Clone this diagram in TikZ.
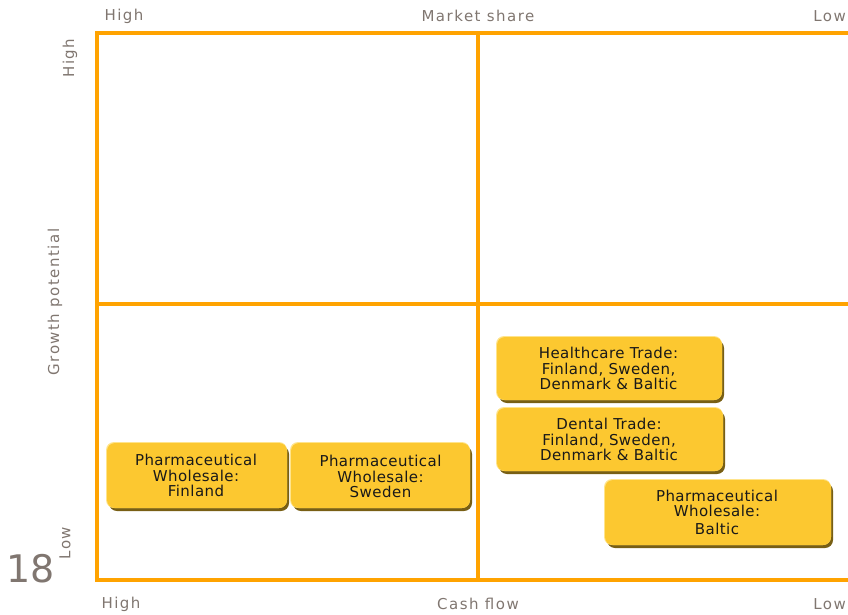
\documentclass[tikz,border=0pt]{standalone}
\usepackage{fontspec}
\setmainfont{DejaVu Sans}
\newfontfamily\boxfont[LetterSpace=3]{DejaVu Sans}
\newfontfamily\labfont[LetterSpace=10]{DejaVu Sans}
\definecolor{gridorange}{RGB}{255,163,0}
\definecolor{boxfill}{RGB}{252,200,48}
\definecolor{boxshadow}{RGB}{120,95,20}
\definecolor{boxlight}{RGB}{255,228,140}
\definecolor{labelgray}{RGB}{128,118,112}
\tikzset{
  x=1pt,y=-1pt,
  gridline/.style={draw=gridorange,line width=4.5pt},
  axislabel/.style={text=labelgray,font=\labfont\fontsize{15}{15}\selectfont,inner sep=0pt},
  boxtext/.style={font=\boxfont\fontsize{15}{15.3}\selectfont,align=center,text=black!90,inner sep=0pt},
}
\begin{document}
\begin{tikzpicture}
\useasboundingbox (0,0) rectangle (848,615);
\clip (0,0) rectangle (848,615);
% grid
\draw[gridline] (97,33) rectangle (870,580);
\draw[gridline] (478,33) -- (478,580);
\draw[gridline] (97,304) -- (870,304);
% boxes
\foreach \nm/\xa/\ya/\xb/\yb in {hc/497/337/722/400, dt/497/408/723/471, pwf/107/443/287/508, pws/291/443/470/508, pwb/605/480/831/545}{
  \fill[boxshadow,rounded corners=8pt] (\xa+2,\ya+3) rectangle (\xb+2,\yb+3);
  \fill[boxlight,rounded corners=8pt] (\xa-1,\ya-1) rectangle (\xb,\yb);
  \fill[boxfill,rounded corners=8pt] (\xa,\ya) rectangle (\xb,\yb);
  \coordinate (\nm) at ({(\xa+\xb)/2},{(\ya+\yb)/2});
}
\node[boxtext] (hct) at ([xshift=-1pt,yshift=0pt]hc) {Healthcare Trade:\\Finland, Sweden,\\Denmark \& Baltic};
\node[boxtext] (dtt) at ([xshift=-1pt,yshift=0pt]dt) {Dental Trade:\\Finland, Sweden,\\Denmark \& Baltic};
\node[boxtext] (pwft) at ([xshift=-1pt,yshift=0pt]pwf) {Pharmaceutical\\Wholesale:\\Finland};
\node[boxtext] (pwst) at ([yshift=-1pt]pws) {Pharmaceutical\\Wholesale:\\Sweden};
\node[boxtext] (pwbt) at ([xshift=-1pt,yshift=0pt]pwb) {Pharmaceutical\\Wholesale:\\[3pt]Baltic};
% axis labels
\node[axislabel] (th) at (124,16) {High};
\node[axislabel] (tm) at (478,16) {Market share};
\node[axislabel,anchor=east] (tl) at (846,16) {Low};
\node[axislabel] (bh) at (121,604) {High};
\node[axislabel] (bc) at (478,604) {Cash flow};
\node[axislabel,anchor=east] (bl) at (846,604) {Low};
\node[axislabel,rotate=90] (lh) at (70,58) {High};
\node[axislabel,rotate=90] (lg) at (55,302) {Growth potential};
\node[axislabel,rotate=90] (ll) at (65,543) {Low};
\node[text=labelgray,font=\fontsize{38}{38}\selectfont,inner sep=0pt] (pg) at (31,569) {18};
\end{tikzpicture}
\end{document}
